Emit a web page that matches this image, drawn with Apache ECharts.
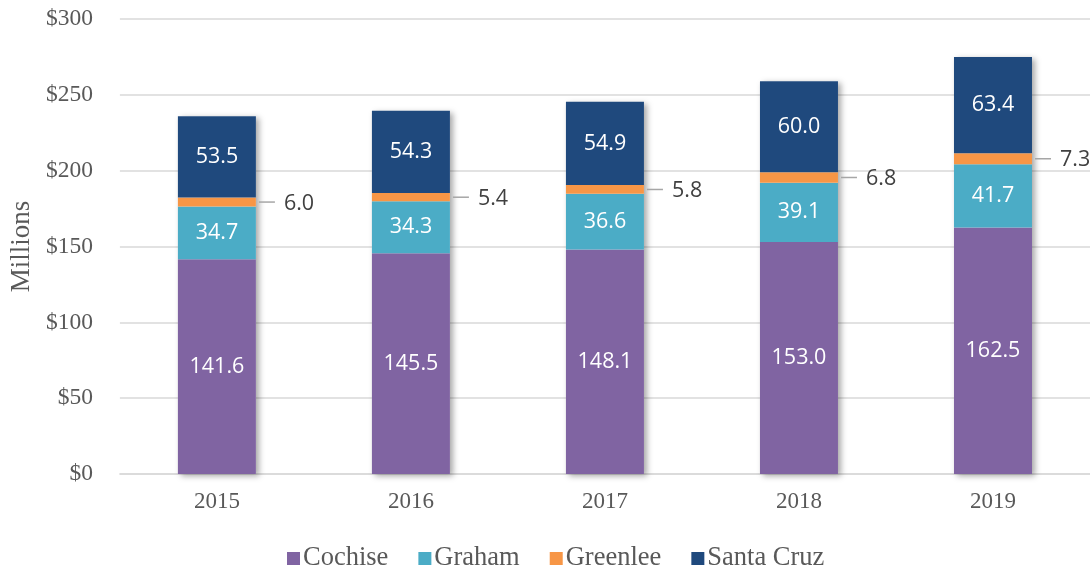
<!DOCTYPE html>
<html>
<head>
<meta charset="utf-8">
<script src="https://cdn.jsdelivr.net/npm/echarts@6/dist/echarts.min.js"></script>
<style>
  html, body { margin: 0; padding: 0; background: #fff; }
  #chart { width: 1090px; height: 569px; }
</style>
</head>
<body>
<div id="chart"></div>
<script>
// Annual amounts by county, in millions of dollars
const years = ['2015', '2016', '2017', '2018', '2019'];
const cochise = [141.6, 145.5, 148.1, 153.0, 162.5];
const graham = [34.7, 34.3, 36.6, 39.1, 41.7];
const greenlee = [6.0, 5.4, 5.8, 6.8, 7.3];
const santaCruz = [53.5, 54.3, 54.9, 60.0, 63.4];
const yTicks = [0, 50, 100, 150, 200, 250, 300];

const colors = {
  Cochise: '#8064A2',
  Graham: '#4BACC6',
  Greenlee: '#F79646',
  'Santa Cruz': '#1F497D'
};

const serif = '"Liberation Serif", "Times New Roman", serif';
const sans = '"Open Sans", "Liberation Sans", sans-serif';
const BAR_W = 78;

// stack totals, used only for the drop shadow behind each column
const totals = years.map((_, i) => cochise[i] + graham[i] + greenlee[i] + santaCruz[i]);

function insideSeries(name, values) {
  return {
    name: name,
    type: 'bar',
    stack: 'total',
    barWidth: BAR_W,
    barGap: '-100%',
    z: 3,
    itemStyle: { color: colors[name] },
    label: {
      show: true,
      position: 'inside',
      color: '#ffffff',
      fontFamily: sans,
      fontSize: 21.5,
      padding: [3, 0, 0, 0],
      formatter: p => p.value.toFixed(1)
    },
    data: values
  };
}

const chart = echarts.init(document.getElementById('chart'), null, { renderer: 'canvas' });

chart.setOption({
  animation: false,
  backgroundColor: '#ffffff',
  grid: { left: 118, top: 19, width: 975, bottom: 95, containLabel: false },
  legend: {
    data: ['Cochise', 'Graham', 'Greenlee', 'Santa Cruz'],
    left: 282,
    top: 540,
    icon: 'rect',
    itemWidth: 13,
    itemHeight: 13,
    itemGap: 30,
    textStyle: { fontFamily: serif, fontSize: 26.5, color: '#595959', padding: [0, 0, 0, -2] }
  },
  xAxis: {
    type: 'category',
    data: years,
    axisLine: { lineStyle: { color: '#D9D9D9', width: 1.5 } },
    axisTick: { show: false },
    axisLabel: { fontFamily: serif, fontSize: 23, color: '#595959', margin: 16 }
  },
  yAxis: {
    type: 'value',
    min: yTicks[0],
    max: yTicks[yTicks.length - 1],
    interval: yTicks[1] - yTicks[0],
    name: 'Millions',
    nameLocation: 'middle',
    nameGap: 84,
    nameRotate: 90,
    nameTextStyle: { fontFamily: serif, fontSize: 27, color: '#595959' },
    axisLine: { show: false },
    axisTick: { show: false },
    axisLabel: {
      fontFamily: serif,
      fontSize: 23.5,
      color: '#595959',
      margin: 27,
      formatter: v => '$' + v
    },
    splitLine: { lineStyle: { color: '#D9D9D9', width: 1.5 } }
  },
  series: [
    {
      name: 'shadow',
      type: 'bar',
      barWidth: BAR_W,
      barGap: '-100%',
      z: 1,
      silent: true,
      itemStyle: {
        color: '#ffffff',
        shadowColor: 'rgba(0,0,0,0.35)',
        shadowBlur: 6,
        shadowOffsetX: 3,
        shadowOffsetY: 2
      },
      label: { show: false },
      data: totals
    },
    insideSeries('Cochise', cochise),
    insideSeries('Graham', graham),
    {
      name: 'Greenlee',
      type: 'bar',
      stack: 'total',
      barWidth: BAR_W,
      barGap: '-100%',
      z: 3,
      itemStyle: { color: colors.Greenlee },
      label: {
        show: true,
        position: 'right',
        distance: 3,
        formatter: p => '{d|}{v|' + p.value.toFixed(1) + '}',
        rich: {
          d: { width: 16, height: 1.5, backgroundColor: '#A6A6A6' },
          v: { fontFamily: sans, fontSize: 21.5, color: '#404040', padding: [3, 0, 0, 9] }
        }
      },
      data: greenlee
    },
    insideSeries('Santa Cruz', santaCruz)
  ]
});
</script>
</body>
</html>
